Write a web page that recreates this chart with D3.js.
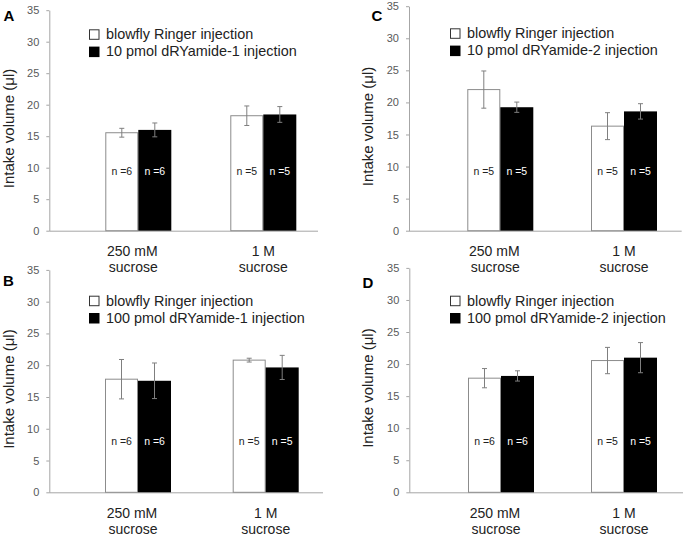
<!DOCTYPE html>
<html>
<head>
<meta charset="utf-8">
<script src="https://cdn.jsdelivr.net/npm/d3@7"></script>
<style>
  html, body { margin: 0; padding: 0; background: #fff; }
  svg { display: block; font-family: "Liberation Sans", Arial, sans-serif; }
</style>
</head>
<body>
<svg id="chart" width="685" height="536"></svg>
<script>
// ---- data ----
const categories = ["250 mM sucrose", "1 M sucrose"];
const yTicks = [0, 5, 10, 15, 20, 25, 30, 35];
const panelLetters = ["A", "B", "C", "D"];
const controlLabel = "blowfly Ringer injection";
const treatmentLabels = ["10 pmol dRYamide-1 injection", "100 pmol dRYamide-1 injection",
                         "10 pmol dRYamide-2 injection", "100 pmol dRYamide-2 injection"];
// means and SEM per panel [250 mM, 1 M]
const controlMeans   = [[15.55, 18.25], [17.8, 20.8], [22.0, 16.3], [17.8, 20.55]];
const controlErr     = [[0.7, 1.55],   [3.1, 0.3],   [2.9, 2.1],   [1.5, 2.05]];
const treatmentMeans = [[16.0, 18.45], [17.55, 19.65], [19.25, 18.6], [18.15, 21.0]];
const treatmentErr   = [[1.1, 1.25],   [2.8, 1.9],   [0.8, 1.2],   [0.8, 2.35]];
const nValues        = [[6, 5], [6, 5], [5, 5], [6, 5]];

// ---- layout (positions only) ----
const layout = [
  { ax: 49.3, zero: 230.7, top: 10.2, end: 318, c0: 89.0, c1: 214.0, legX: 89, legY: 29.3, letX: 3.5, letY: 20.5, titleX: 8.5, nDy: 55.5 },
  { ax: 49.3, zero: 492.3, top: 269.9, end: 323, c0: 88.7, c1: 216.4, legX: 89, legY: 295.7, letX: 3, letY: 285.5, titleX: 8.5, nDy: 47.5 },
  { ax: 409.0, zero: 230.7, top: 6.2, end: 681.7, c0: 91.3, c1: 215.0, legX: 450, legY: 28.3, letX: 371.5, letY: 21, titleX: 368, nDy: 55.5 },
  { ax: 409.3, zero: 492.3, top: 267.9, end: 683, c0: 91.7, c1: 214.7, legX: 450, legY: 295.7, letX: 362.5, letY: 288, titleX: 368, nDy: 47.5 }
];

const svg = d3.select("#chart");
const bw = 33;
const axisColor = "#a6a6a6";
const textGray = "#595959";

layout.forEach((L, p) => {
  const g = svg.append("g");
  const y = d3.scaleLinear().domain([0, 35]).range([L.zero, L.top]);
  const x = d3.scalePoint().domain(categories).range([L.ax + L.c0, L.ax + L.c1]);

  // y axis
  const yAxis = g.append("g")
    .attr("transform", `translate(${L.ax},0)`)
    .call(d3.axisLeft(y).tickValues(yTicks).tickSize(3).tickSizeOuter(0).tickPadding(7));
  yAxis.select(".domain").attr("stroke", axisColor);
  yAxis.selectAll(".tick line").attr("stroke", axisColor);
  yAxis.selectAll(".tick text").attr("fill", textGray).style("font-size", "11px")
    .style("font-family", "'Liberation Sans', Arial, sans-serif");

  // x axis line
  g.append("line")
    .attr("x1", L.ax).attr("x2", L.end)
    .attr("y1", L.zero + 0.5).attr("y2", L.zero + 0.5)
    .attr("stroke", axisColor).attr("stroke-width", 1);

  // category labels
  categories.forEach(c => {
    const parts = c.split(" ");
    const line1 = parts.slice(0, parts.length - 1).join(" ");
    const line2 = parts[parts.length - 1];
    const t = g.append("text").attr("text-anchor", "middle")
      .attr("fill", "#222").style("font-size", "14px");
    t.append("tspan").attr("x", x(c) - (c === categories[0] ? 6 : 0)).attr("y", L.zero + 25.5).text(line1);
    t.append("tspan").attr("x", x(c) - (c === categories[0] ? 5 : 0)).attr("y", L.zero + 41.5).text(line2);
  });

  // bars
  const rows = categories.map((c, i) => ({
    c, cm: controlMeans[p][i], ce: controlErr[p][i],
    tm: treatmentMeans[p][i], te: treatmentErr[p][i], n: nValues[p][i]
  }));

  rows.forEach(r => {
    const cx = x(r.c);
    // control bar (white)
    g.append("rect")
      .attr("x", cx - bw + 0.5).attr("y", y(r.cm))
      .attr("width", bw - 1).attr("height", y(0) - y(r.cm))
      .attr("fill", "#fff").attr("stroke", "#8c8c8c").attr("stroke-width", 1);
    // treatment bar (black)
    g.append("rect")
      .attr("x", cx).attr("y", y(r.tm))
      .attr("width", bw).attr("height", y(0) - y(r.tm))
      .attr("fill", "#000");

    // error bars
    [[cx - bw / 2, r.cm, r.ce], [cx + bw / 2, r.tm, r.te]].forEach(([ex, m, e]) => {
      const eg = g.append("g").attr("stroke", "#7f7f7f").attr("stroke-width", 1);
      eg.append("line").attr("x1", ex).attr("x2", ex).attr("y1", y(m + e)).attr("y2", y(m - e));
      eg.append("line").attr("x1", ex - 2.5).attr("x2", ex + 2.5).attr("y1", y(m + e)).attr("y2", y(m + e));
      eg.append("line").attr("x1", ex - 2.5).attr("x2", ex + 2.5).attr("y1", y(m - e)).attr("y2", y(m - e));
    });

    // n labels
    g.append("text").attr("x", cx - bw / 2).attr("y", L.zero - L.nDy)
      .attr("text-anchor", "middle").style("font-size", "10.5px").attr("fill", "#222")
      .text("n =" + r.n);
    g.append("text").attr("x", cx + bw / 2).attr("y", L.zero - L.nDy)
      .attr("text-anchor", "middle").style("font-size", "10.5px").attr("fill", "#fff")
      .text("n =" + r.n);
  });

  // legend
  const sq = 10.5;
  g.append("rect").attr("x", L.legX + 0.5).attr("y", L.legY + 0.5).attr("width", sq - 1).attr("height", sq - 1)
    .attr("fill", "#fff").attr("stroke", "#333").attr("stroke-width", 1);
  g.append("rect").attr("x", L.legX).attr("y", L.legY + 17.3).attr("width", sq).attr("height", sq)
    .attr("fill", "#000");
  g.append("text").attr("x", L.legX + 17).attr("y", L.legY + 9.8)
    .style("font-size", "14.4px").attr("fill", "#222").text(controlLabel);
  g.append("text").attr("x", L.legX + 17).attr("y", L.legY + 27)
    .style("font-size", "14.4px").attr("fill", "#222").text(treatmentLabels[p]);

  // y title
  const tc = (L.zero + L.top) / 2 + 8;
  g.append("text")
    .attr("transform", `translate(${L.titleX + 5},${tc}) rotate(-90)`)
    .attr("text-anchor", "middle").style("font-size", "15px").attr("fill", "#222")
    .text("Intake volume (μl)");

  // panel letter
  g.append("text").attr("x", L.letX).attr("y", L.letY)
    .style("font-size", "15px").style("font-weight", "bold").attr("fill", "#000")
    .text(panelLetters[p]);
});
</script>
</body>
</html>
